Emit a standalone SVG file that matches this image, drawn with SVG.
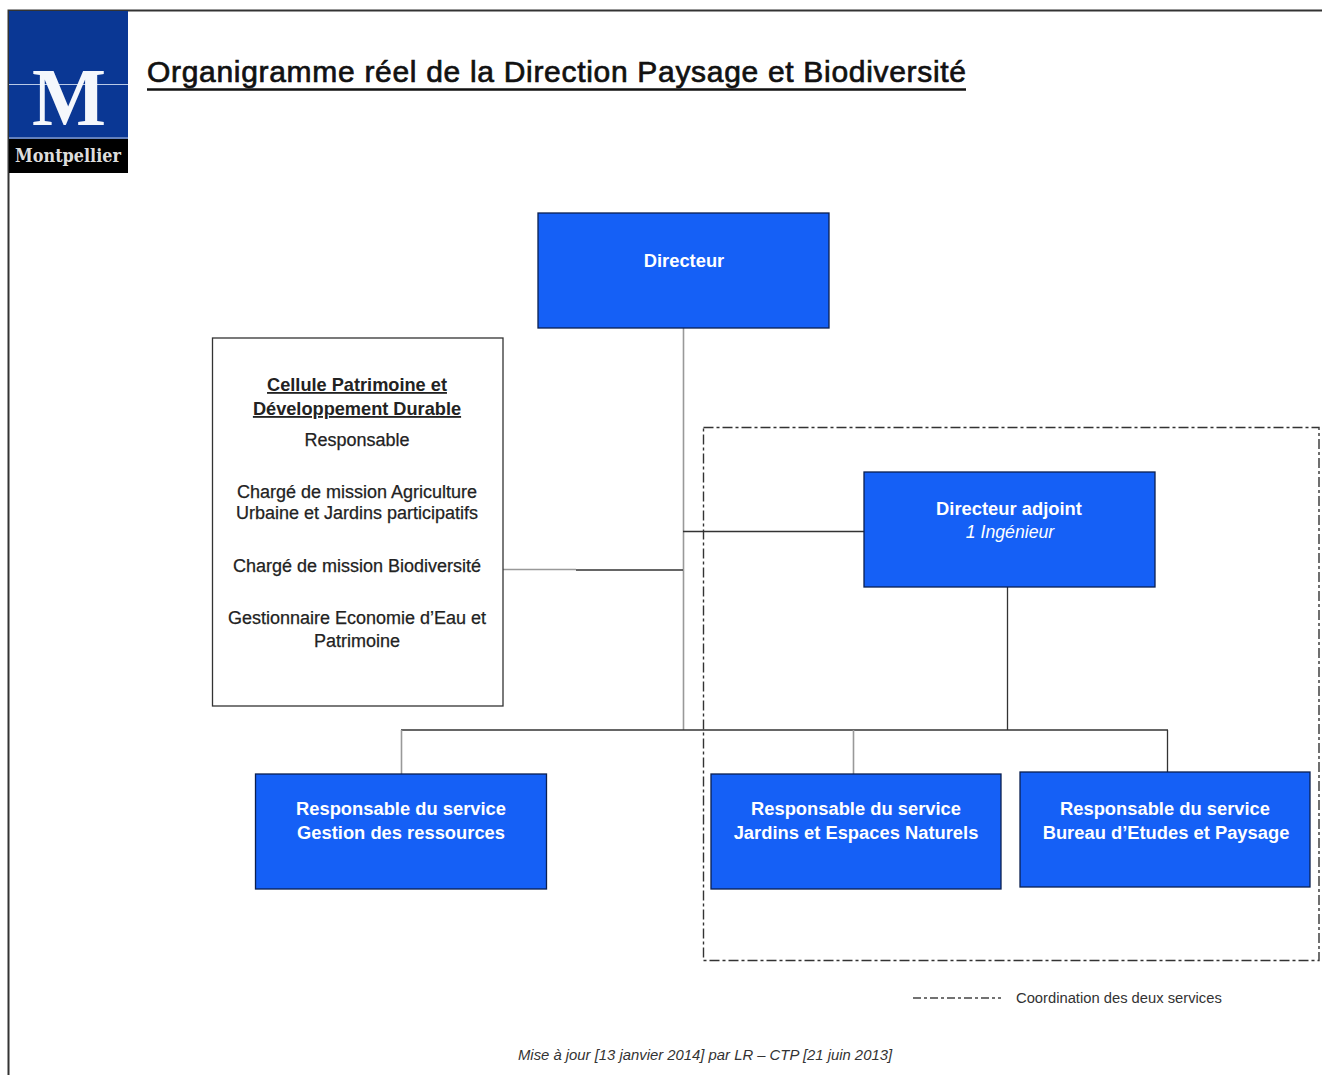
<svg xmlns="http://www.w3.org/2000/svg" width="1322" height="1075" viewBox="0 0 1322 1075">
<style>
text{font-family:"Liberation Sans",Arial,sans-serif;text-anchor:middle}
.blue{fill:#1560f6;stroke:#0a1f50;stroke-width:1.3}
.w{fill:#fff;font-weight:bold;font-size:18.35px}
.k{fill:#222;font-size:18px;stroke:#222;stroke-width:.25}
.b{font-weight:bold;font-size:18.2px;stroke:none}
.c{fill:none;stroke:#333;stroke-width:1.3}
.g{fill:none;stroke:#999;stroke-width:1.6}
.dd{fill:none;stroke:#333;stroke-width:1.4;stroke-dasharray:10 3 3 3}
</style>
<rect width="1322" height="1075" fill="#fff"/>
<g id="frame"><path d="M8.500 1075V10.500H1322" fill="none" stroke="#333" stroke-width="2"/></g>
<g id="logo">
<rect x="9" y="11" width="119" height="128" fill="#0a3794"/>
<rect x="9" y="139" width="119" height="34" fill="#000"/>
<path d="M9 84.500H128M9 138H128" stroke="#b9c9e6" stroke-width="1.200" fill="none"/>
<text x="69" y="125" font-size="82" font-weight="bold" fill="#f4f7fc" style="font-family:'Liberation Serif',serif" textLength="74" lengthAdjust="spacingAndGlyphs">M</text>
<text x="68" y="162" font-size="19" font-weight="bold" fill="#ddd" style="font-family:'DejaVu Serif',serif" textLength="106" lengthAdjust="spacingAndGlyphs">Montpellier</text>
</g>
<g id="title">
<text x="147" y="82" font-size="30" fill="#111" stroke="#111" stroke-width=".7" style="text-anchor:start" textLength="819" lengthAdjust="spacing">Organigramme réel de la Direction Paysage et Biodiversité</text>
<path d="M147 89.500H966" stroke="#111" stroke-width="2.400"/>
</g>
<g id="connectors">
<path class="g" d="M683.500 328V730"/>
<path class="c" d="M683 531.500H864"/>
<path class="g" d="M503 569.500H576"/>
<path class="c" d="M576 570H683"/>
<path class="c" d="M1007.500 587V730"/>
<path class="c" d="M401 730H1168"/>
<path class="g" d="M401.500 730V774M853.500 730V774"/>
<path class="c" d="M1167.500 730V772"/>
</g>
<g id="coordination">
<rect class="dd" x="703.500" y="427.500" width="615.500" height="533"/>
</g>
<g id="directeur">
<rect class="blue" x="538" y="213" width="291" height="115"/>
<text class="w" x="684" y="267">Directeur</text>
</g>
<g id="cellule">
<rect x="212.500" y="338" width="290.500" height="368" fill="#fff" stroke="#333" stroke-width="1.300"/>
<text class="k b" x="357" y="391" text-decoration="underline">Cellule Patrimoine et</text>
<text class="k b" x="357" y="415" text-decoration="underline">Développement Durable</text>
<text class="k" x="357" y="446">Responsable</text>
<text class="k" x="357" y="498">Chargé de mission Agriculture</text>
<text class="k" x="357" y="519">Urbaine et Jardins participatifs</text>
<text class="k" x="357" y="572">Chargé de mission Biodiversité</text>
<text class="k" x="357" y="624">Gestionnaire Economie d’Eau et</text>
<text class="k" x="357" y="647">Patrimoine</text>
</g>
<g id="adjoint">
<rect class="blue" x="864" y="472" width="291" height="115"/>
<text class="w" x="1009" y="515">Directeur adjoint</text>
<text class="w" x="1010" y="538" style="font-weight:normal;font-style:italic;font-size:17.700px">1 Ingénieur</text>
</g>
<g id="ressources">
<rect class="blue" x="255.500" y="774" width="291" height="115"/>
<text class="w" x="401" y="815">Responsable du service</text>
<text class="w" x="401" y="839">Gestion des ressources</text>
</g>
<g id="jardins">
<rect class="blue" x="711" y="774" width="290" height="115"/>
<text class="w" x="856" y="815">Responsable du service</text>
<text class="w" x="856" y="839">Jardins et Espaces Naturels</text>
</g>
<g id="bureau">
<rect class="blue" x="1020" y="772" width="290" height="115"/>
<text class="w" x="1165" y="815">Responsable du service</text>
<text class="w" x="1166" y="839">Bureau d’Etudes et Paysage</text>
</g>
<g id="legend">
<path d="M913 998H1001" stroke="#444" stroke-width="1.300" stroke-dasharray="8 3 3 3" fill="none"/>
<text x="1016" y="1003" font-size="14.750" fill="#333" style="text-anchor:start">Coordination des deux services</text>
</g>
<g id="footer">
<text x="705" y="1060" font-size="14.850" font-style="italic" fill="#333">Mise à jour [13 janvier 2014] par LR – CTP [21 juin 2013]</text>
</g>
</svg>
